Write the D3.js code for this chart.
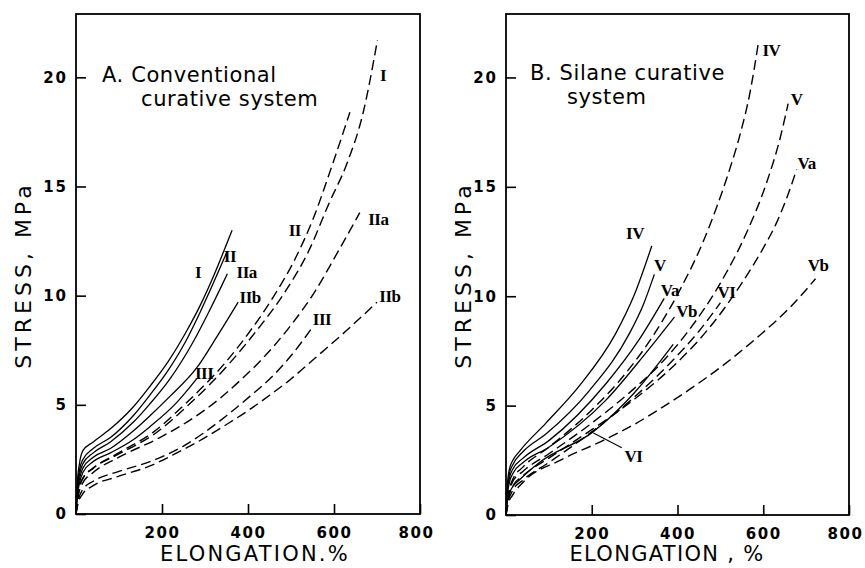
<!DOCTYPE html>
<html><head><meta charset="utf-8">
<script src="https://cdn.jsdelivr.net/npm/d3@7/dist/d3.min.js"></script>
<style>body{margin:0;background:#fff}</style>
</head><body><svg id="c" width="865" height="568"></svg>
<script>
// ---------- axis ticks ----------
const xTickValues = [200, 400, 600, 800];
const yTickValues = [0, 5, 10, 15, 20];
const xMax = 800;
const yMax = 22.9;

// ---------- Panel A: conventional curative system (elongation %, stress MPa) ----------
const A_I_solid   = [[0,0],[3,1.4],[8,2.3],[16,2.9],[40,3.3],[80,3.9],[133,4.9],[170,5.8],[215,7.0],[255,8.3],[290,9.6],[320,10.9],[345,12.1],[363,13.0]];
const A_II_solid  = [[0,0],[3,1.2],[8,2.0],[16,2.5],[40,3.0],[80,3.5],[133,4.5],[170,5.4],[215,6.6],[255,7.9],[290,9.3],[320,10.6],[351,12.0]];
const A_IIa_solid = [[0,0],[3,1.1],[8,1.8],[16,2.3],[40,2.8],[80,3.3],[133,4.2],[170,5.0],[219,6.2],[273,7.9],[310,9.3],[335,10.3],[352,11.0]];
const A_IIb_solid = [[0,0],[3,0.9],[8,1.6],[16,2.1],[40,2.6],[80,3.0],[133,3.8],[172,4.5],[219,5.4],[281,6.7],[327,8.1],[377,9.7]];
const A_III_solid = [[0,0],[3,0.8],[8,1.4],[16,1.9],[40,2.4],[80,2.8],[133,3.4],[172,4.0],[234,5.1],[281,6.2]];

const A_I_dash   = [[0,0],[5,0.9],[15,1.6],[40,2.1],[90,2.65],[185,3.7],[262,5.0],[357,6.9],[412,8.2],[487,10.2],[540,12.0],[590,14.3],[629,16.0],[668,18.4],[701,21.7]];
const A_II_dash  = [[0,0],[5,0.9],[15,1.6],[40,2.1],[90,2.7],[180,3.75],[257,5.1],[348,6.95],[402,8.3],[464,10.1],[510,11.7],[551,13.5],[598,16.1],[637,18.4]];
const A_IIa_dash = [[0,0],[5,0.8],[15,1.4],[40,1.9],[100,2.6],[195,3.5],[265,4.3],[335,5.3],[381,6.1],[428,7.0],[498,8.6],[556,10.2],[606,11.9],[660,13.8]];
const A_III_dash = [[0,0],[5,0.6],[15,1.1],[40,1.5],[100,1.95],[172,2.4],[249,3.1],[296,3.7],[350,4.5],[405,5.4],[459,6.35],[498,7.2],[548,8.5]];
const A_IIb_dash = [[0,0],[5,0.5],[15,0.9],[40,1.3],[95,1.7],[172,2.2],[230,2.75],[296,3.45],[350,4.1],[405,4.8],[451,5.45],[498,6.15],[536,6.8],[583,7.6],[629,8.4],[700,9.7]];

// label text, elongation, stress
const A_labels = [["I",284,11.05],["II",358,11.8],["IIa",397,11.05],["IIb",405,9.9],["III",298,6.45],
                  ["I",714,20.1],["II",509,13.0],["IIa",703,13.5],["III",572,8.9],["IIb",730,9.95]];

// ---------- Panel B: silane curative system ----------
const B_IV_solid = [[0,0],[3,1.3],[8,2.1],[16,2.5],[31,2.9],[93,4.2],[171,5.9],[256,8.3],[300,10.1],[340,12.3]];
const B_V_solid  = [[0,0],[3,1.1],[8,1.9],[16,2.3],[40,2.9],[93,3.7],[195,5.7],[288,8.3],[320,9.6],[346,11.0]];
const B_Va_solid = [[0,0],[3,1.0],[8,1.7],[16,2.1],[40,2.6],[100,3.4],[233,6.0],[310,8.0],[369,9.9]];
const B_Vb_solid = [[0,0],[3,0.9],[8,1.5],[16,1.9],[40,2.4],[100,3.1],[233,5.25],[326,7.4],[393,9.05]];
const B_VI_solid = [[0,0],[3,0.6],[8,1.0],[16,1.3],[31,1.6],[78,2.4],[203,3.8],[300,5.6],[390,7.8]];

const B_IV_dash = [[0,0],[5,0.9],[15,1.6],[40,2.2],[100,3.1],[200,4.8],[280,6.5],[350,8.4],[406,10.3],[460,12.5],[490,14.0],[520,15.7],[546,17.4],[569,19.3],[588,21.5]];
const B_V_dash  = [[0,0],[5,0.8],[15,1.5],[40,2.0],[100,2.8],[200,4.2],[300,5.8],[360,6.9],[421,8.3],[500,10.6],[561,12.9],[608,15.2],[639,17.2],[658,18.8]];
const B_Va_dash = [[0,0],[5,0.7],[15,1.3],[40,1.8],[100,2.6],[200,3.9],[300,5.3],[406,7.1],[450,8.0],[500,9.2],[550,10.6],[600,12.2],[632,13.4],[655,14.5],[678,15.8]];
const B_VI_dash = [[0,0],[5,0.6],[15,1.1],[40,1.6],[100,2.4],[200,3.8],[300,5.4],[400,7.3],[450,8.4],[500,9.7]];
const B_Vb_dash = [[0,0],[5,0.5],[15,0.9],[40,1.5],[126,2.5],[226,3.4],[300,4.15],[359,4.85],[429,5.75],[507,6.85],[585,8.1],[663,9.5],[722,10.8]];

const B_labels = [["IV",301,12.85],["V",359,11.4],["Va",382,10.25],["Vb",421,9.3],["VI",297,2.67],
                  ["IV",619,21.25],["V",678,19.0],["Va",701,16.05],["VI",514,10.15],["Vb",728,11.4]];
const B_pointer = [[270,3.07],[204,3.75]];

// ---------- drawing ----------
const svg = d3.select('#c');
svg.append('rect').attr('width',865).attr('height',568).attr('fill','#fff');

function panel(o) {
  const x = d3.scaleLinear().domain([0, xMax]).range([o.left, o.right]);
  const y = d3.scaleLinear().domain([0, yMax]).range([o.bottom, o.top]);
  const g = svg.append('g');

  const line = d3.line().x(d => x(d[0])).y(d => y(d[1])).curve(d3.curveMonotoneX);
  o.solids.forEach(s => g.append('path').attr('d', line(s)).attr('fill','none')
      .attr('stroke','#000').attr('stroke-width',1.3));
  o.dashes.forEach(s => g.append('path').attr('d', line(s)).attr('fill','none')
      .attr('stroke','#000').attr('stroke-width',1.4).attr('stroke-dasharray','10,5'));

  if (o.pointer) g.append('path').attr('d', d3.line().x(d=>x(d[0])).y(d=>y(d[1]))(o.pointer))
      .attr('stroke','#000').attr('stroke-width',1.1).attr('fill','none');

  // frame
  g.append('rect').attr('x',o.left).attr('y',o.top).attr('width',o.right-o.left).attr('height',o.bottom-o.top)
    .attr('fill','none').attr('stroke','#000').attr('stroke-width',1.8);

  // x axis ticks (inward)
  const xa = g.append('g').attr('transform',`translate(0,${o.bottom})`)
    .call(d3.axisBottom(x).tickValues(xTickValues).tickSize(-10).tickPadding(13).tickFormat(d3.format('d')));
  xa.select('.domain').remove();
  xa.selectAll('line').attr('stroke','#000').attr('stroke-width',1.6);
  xa.selectAll('text').attr('font-family','DejaVu Sans').attr('font-weight','bold')
    .attr('font-size',15).attr('letter-spacing','1.5px').attr('fill','#000')
    .attr('dx', d => d === 800 ? -4 : 0);

  const ya = g.append('g').attr('transform',`translate(${o.left},0)`)
    .call(d3.axisLeft(y).tickValues(yTickValues).tickSize(-10).tickPadding(8).tickFormat(d3.format('d')));
  ya.select('.domain').remove();
  ya.selectAll('line').attr('stroke','#000').attr('stroke-width',1.6);
  ya.selectAll('text').attr('font-family','DejaVu Sans').attr('font-weight','bold')
    .attr('font-size',15).attr('letter-spacing','2px').attr('fill','#000');

  // curve labels
  o.labels.forEach(l => g.append('text').attr('x', x(l[1])).attr('y', y(l[2]))
    .attr('text-anchor','middle').attr('dominant-baseline','central')
    .attr('font-family','Liberation Serif').attr('font-weight','bold').attr('font-size',17)
    .attr('letter-spacing','-0.5px').text(l[0]));

  // axis titles
  g.append('text').attr('x', o.xTitleX).attr('y', 554).attr('text-anchor','middle')
    .attr('dominant-baseline','central').attr('font-family','DejaVu Sans').attr('font-size',21)
    .attr('letter-spacing', o.xTitleSpacing).text(o.xTitle);
  g.append('text').attr('transform',`translate(${o.yTitleX},275) rotate(-90)`).attr('text-anchor','middle')
    .attr('dominant-baseline','central').attr('font-family','DejaVu Sans').attr('font-size',22)
    .attr('letter-spacing','4px').text('STRESS, MPa');

  // panel title
  o.title.forEach(t => g.append('text').attr('x', t[1]).attr('y', t[2])
    .attr('font-family','DejaVu Sans').attr('font-size',21).attr('letter-spacing','0.6px').text(t[0]));
}

panel({left:76, right:420, top:14, bottom:514,
  solids:[A_I_solid,A_II_solid,A_IIa_solid,A_IIb_solid,A_III_solid],
  dashes:[A_I_dash,A_II_dash,A_IIa_dash,A_III_dash,A_IIb_dash],
  labels:A_labels, xTitle:'ELONGATION.%', xTitleX:255, xTitleSpacing:'2.2px', yTitleX:23,
  title:[['A. Conventional',102,82],['curative system',141,106]]});

panel({left:506, right:849, top:14, bottom:515,
  solids:[B_IV_solid,B_V_solid,B_Va_solid,B_Vb_solid,B_VI_solid],
  dashes:[B_IV_dash,B_V_dash,B_Va_dash,B_VI_dash,B_Vb_dash],
  labels:B_labels, pointer:B_pointer, xTitle:'ELONGATION , %', xTitleX:667, xTitleSpacing:'1.3px', yTitleX:463,
  title:[['B. Silane curative',530,80],['system',567,104]]});
</script></body></html>
